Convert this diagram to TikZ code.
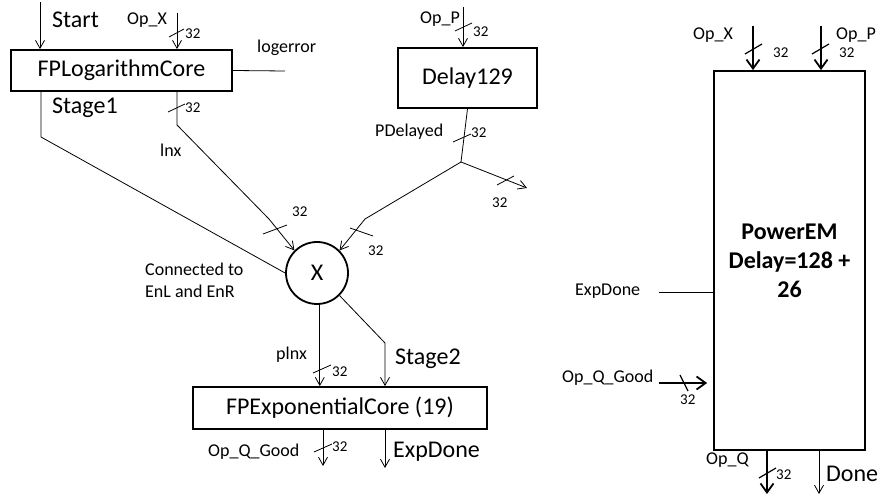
\documentclass[tikz,border=0pt]{standalone}
\usepackage{fontspec}
\setmainfont{Carlito}
\usetikzlibrary{arrows.meta,calc}
\newcommand\bigtxt{\fontsize{24}{30}\selectfont}
\newcommand\smalltxt{\fontsize{18}{22}\selectfont}
\newcommand\widthtxt{\fontsize{15}{18}\selectfont}
\tikzset{
  wire/.style={line width=0.8pt},
  arr/.style={wire, -{Straight Barb[length=8pt,width=9pt]}},
  boldarr/.style={line width=1.8pt, -{Straight Barb[length=9pt,width=13pt]}},
  blk/.style={draw, line width=1.8pt, inner sep=0pt, font=\bigtxt},
  big/.style={anchor=west, inner sep=0pt, font=\bigtxt},
  lbl/.style={anchor=west, inner sep=0pt, font=\smalltxt},
  wd/.style={anchor=west, inner sep=0pt, font=\widthtxt},
}
\begin{document}
\begin{tikzpicture}[x=1pt, y=-1pt]
\useasboundingbox (0,0) rectangle (879,494);

% ---------------- blocks ----------------
\node[blk, minimum width=221pt, minimum height=41pt] (log) at (121.5,70.5) {FPLogarithmCore};
\node[blk, minimum width=139pt, minimum height=60pt] (dly) at (467.5,78) {Delay129};
\node[blk, circle, minimum size=62pt] (mul) at (317,273) {X};
\node[blk, minimum width=294pt, minimum height=42pt] (exp) at (340,408) {FPExponentialCore (19)};
\node[blk, minimum width=151pt, minimum height=379pt, align=center,
      font=\bigtxt\bfseries] (pem) at (789.5,260.5) {PowerEM\\[-1pt]Delay=128 +\\[-1pt]26};

% ---------------- free ends and bends ----------------
\coordinate (startsrc) at (40,2);
\coordinate (opxsrc) at (177,13);
\coordinate (logerrend) at (285,71);
\coordinate (s1bend) at (41,137);
\coordinate (lnxbend1) at (177,125);
\coordinate (lnxbend2) at (269,219);
\coordinate (oppsrc) at (463,7);
\coordinate (pjunc) at (461,162);
\coordinate (pout) at (527,188);
\coordinate (pbend) at (365,219);
\coordinate (s2bend) at (385,343);
\coordinate (oqgend) at (323,466);
\coordinate (edend) at (385,468);
\coordinate (popxsrc) at (753,26);
\coordinate (poppsrc) at (821,26);
\coordinate (pedsrc) at (659,292);
\coordinate (poqgsrc) at (659,383);
\coordinate (poqend) at (767,494);
\coordinate (pdoneend) at (819,494);

% ---------------- logarithm stage ----------------
\draw[arr] (startsrc) -- (startsrc |- log.north);
\draw[arr] (opxsrc) -- (opxsrc |- log.north);
\draw[wire] (log.east) -- (logerrend);
\draw[wire] (s1bend |- log.south) -- (s1bend) -- (mul.west);
\draw[arr] (lnxbend1 |- log.south) -- (lnxbend1) -- (lnxbend2) -- (mul.north west);

% ---------------- delay line ----------------
\draw[arr] (oppsrc) -- (oppsrc |- dly.north);
\draw[wire] (dly.south) -- (pjunc);
\draw[arr] (pjunc) -- (pout);
\draw[arr] (pjunc) -- (pbend) -- (mul.north east);

% ---------------- exponential stage ----------------
\draw[arr] (mul.275) -- (mul.275 |- exp.north);
\draw[arr] (mul.-45) -- (s2bend) -- (s2bend |- exp.north);
\draw[arr] (oqgend |- exp.south) -- (oqgend);
\draw[arr] (edend |- exp.south) -- (edend);

% ---------------- top-level block ports ----------------
\draw[boldarr] (popxsrc) -- (popxsrc |- pem.north);
\draw[boldarr] (poppsrc) -- (poppsrc |- pem.north);
\draw[wire] (pedsrc) -- (pedsrc -| pem.west);
\draw[boldarr, shorten >=6pt] (poqgsrc) -- (poqgsrc -| pem.west);
\draw[boldarr] (poqend |- pem.south) -- (poqend);
\draw[arr] (pdoneend |- pem.south) -- (pdoneend);

% ---------------- bus-width ticks ----------------
\draw[wire] (169,37) -- (184,29);
\draw[wire] (168,112) -- (185,104);
\draw[wire] (263,234) -- (287,225);
\draw[wire] (350,228) -- (373,236);
\draw[wire] (453,142) -- (471,134);
\draw[wire] (497,185) -- (514,176);
\draw[wire] (455,31) -- (472,23);
\draw[wire] (313,373) -- (331,365);
\draw[wire] (314,452) -- (332,444);
\draw[wire, line width=1.2pt] (745,54) -- (762,44);
\draw[wire, line width=1.2pt] (812,54) -- (829,44);
\draw[wire, line width=1.2pt] (680,375) -- (688,391);
\draw[wire, line width=1.2pt] (759,478) -- (776,468);

% ---------------- labels ----------------
\node[big] (tStart) at (52,20) {Start};
\node[lbl] (tOpX) at (127,20) {Op\_X};
\node[wd] (w1) at (185,34) {32};
\node[lbl] (tLogerr) at (257,48) {logerror};
\node[big] (tStage1) at (52,108) {Stage1};
\node[wd] (w2) at (185,108) {32};
\node[lbl] (tLnx) at (160,150) {lnx};
\node[wd] (w3) at (292,212) {32};
\node[lbl, align=left] (tConn) at (145,280) {Connected to\\EnL and EnR};
\node[lbl] (tOpP) at (420,19) {Op\_P};
\node[wd] (w4) at (473,32) {32};
\node[lbl] (tPDel) at (375,132) {PDelayed};
\node[wd] (w5) at (471,133) {32};
\node[wd] (w6) at (492,203) {32};
\node[wd] (w7) at (368,251) {32};
\node[lbl] (tPlnx) at (276,355) {plnx};
\node[wd] (w8) at (332,372) {32};
\node[big] (tStage2) at (395,359) {Stage2};
\node[lbl] (tOQG) at (208,452) {Op\_Q\_Good};
\node[wd] (w9) at (332,447) {32};
\node[big] (tExpDone) at (393,452) {ExpDone};

\node[lbl] (tPOpX) at (693,35) {Op\_X};
\node[wd] (w10) at (773,53) {32};
\node[lbl] (tPOpP) at (836,35) {Op\_P};
\node[wd] (w11) at (839,53) {32};
\node[lbl] (tPED) at (575,291) {ExpDone};
\node[lbl] (tPOQG) at (562,378) {Op\_Q\_Good};
\node[wd] (w12) at (680,400) {32};
\node[lbl] (tPOQ) at (706,460) {Op\_Q};
\node[wd] (w13) at (776,475) {32};
\node[big] (tDone) at (826,474) {Done};
\end{tikzpicture}
\end{document}
